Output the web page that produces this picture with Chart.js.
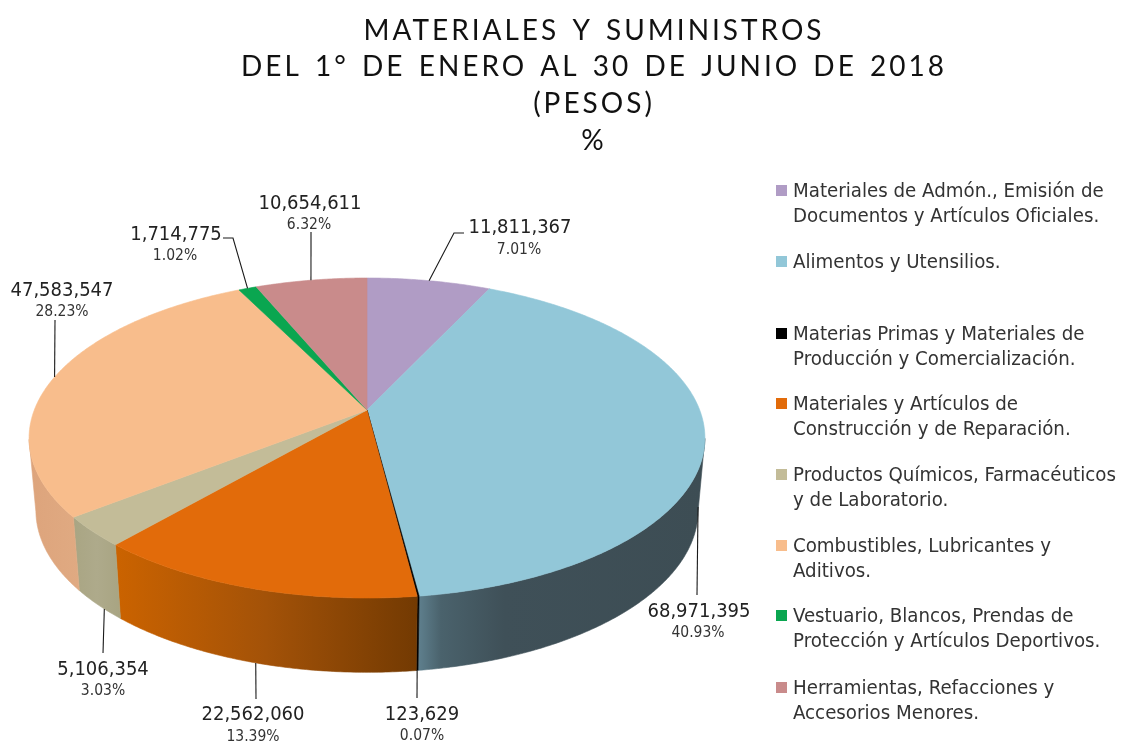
<!DOCTYPE html>
<html lang="es">
<head>
<meta charset="utf-8">
<title>Materiales y Suministros</title>
<script src="https://cdn.jsdelivr.net/npm/chart.js@4/dist/chart.umd.min.js"></script>
<style>
  html, body { margin: 0; padding: 0; background: #fff; }
  canvas { display: block; }
</style>
</head>
<body>
<canvas id="materialesChart" width="1122" height="743"></canvas>
<script>
// Datos
const titleLines = ["MATERIALES Y SUMINISTROS", "DEL 1° DE ENERO AL 30 DE JUNIO DE 2018", "(PESOS)", "%"]
const categories = [
  ["Materiales de Admón., Emisión de", "Documentos y Artículos Oficiales."],
  ["Alimentos y Utensilios."],
  ["Materias Primas y Materiales de", "Producción y Comercialización."],
  ["Materiales y Artículos de", "Construcción y de Reparación."],
  ["Productos Químicos, Farmacéuticos", "y de Laboratorio."],
  ["Combustibles, Lubricantes y", "Aditivos."],
  ["Vestuario, Blancos, Prendas de", "Protección y Artículos Deportivos."],
  ["Herramientas, Refacciones y", "Accesorios Menores."],
]
const values = [11811367, 68971395, 123629, 22562060, 5106354, 47583547, 1714775, 10654611]
const percentLabels = ["7.01%", "40.93%", "0.07%", "13.39%", "3.03%", "28.23%", "1.02%", "6.32%"]

// Colores
const sliceColors = ["#b09cc5", "#92c7d8", "#000000", "#e26b0a", "#c3bc98", "#f8bd8c", "#0aa650", "#c98b8b"]
const wallStops = [
  [[0, "#8a7a9c"], [1, "#8a7a9c"]],
  [[0, "#5f808e"], [0.08, "#4a626c"], [0.3, "#3f5058"], [1, "#3d4d54"]],
  [[0, "#000000"], [1, "#000000"]],
  [[0, "#cb6300"], [0.5, "#a35208"], [1, "#733a02"]],
  [[0, "#a9a583"], [0.5, "#aeaa8b"], [1, "#a8a482"]],
  [[0, "#dda47c"], [1, "#e0aa82"]],
  [[0, "#088a42"], [1, "#088a42"]],
  [[0, "#a87474"], [1, "#a87474"]],
]

// Vista en perspectiva del disco (cara superior e inferior)
const topDisk = { cx: 367, cy: 410, a: 332.7, b: 155.1, k: -0.175 }
const lowDisk = { cx: 367, cy: 482, a: 326, b: 157, k: -0.175 }

// Etiquetas: centro del texto, base del valor y del porcentaje, y tramo de la guia
const labelLayout = [
  { x: 520, y: 233, py: 254, px: 519, rim: topDisk, via: [[454, 233], [464, 233]] },
  { x: 699, y: 617, py: 637, px: 698, rim: lowDisk, via: [[697, 595]] },
  { x: 422, y: 720, py: 740, px: 422, rim: lowDisk, via: [[417, 698]] },
  { x: 253, y: 720, py: 741, px: 253, rim: lowDisk, clock: 196.5, via: [[256, 699]] },
  { x: 103, y: 675, py: 695, px: 103, rim: lowDisk, clock: 224.9, via: [[103, 653]] },
  { x: 62, y: 296, py: 316, px: 62, rim: topDisk, via: [[55, 320]] },
  { x: 176, y: 240, py: 260, px: 175, rim: topDisk, via: [[233, 238], [223, 238]] },
  { x: 310, y: 209, py: 229, px: 309, rim: topDisk, via: [[311, 232]] },
]

// Leyenda: base de cada primera linea
const legendBaselines = [197, 268, 340, 410, 481, 552, 622, 694]
const legendLineGap = 25
const legendSwatchX = 776
const legendTextX = 793

const fontOf = (size) => `condensed ${size}px 'DejaVu Sans'`
const STEP = Math.PI / 360

function project(disk, angle) {
  const u = Math.cos(angle)
  const v = Math.sin(angle)
  const d = 1 + disk.k * v
  return [disk.cx + (disk.a * u) / d, disk.cy + (disk.b * v) / d]
}

function sampleAngles(start, end) {
  const list = []
  for (let t = start; t < end; t += STEP) list.push(t)
  list.push(end)
  return list
}

// Pared lateral de cada porcion, tomada de los angulos que calcula Chart.js
function drawWalls(ctx, arcs) {
  arcs.forEach((arc, i) => {
    const angles = sampleAngles(arc.startAngle, arc.endAngle).filter((t) => Math.sin(t) >= -topDisk.k)
    if (angles.length < 2) return
    const upper = angles.map((t) => project(topDisk, t))
    const lower = angles.map((t) => project(lowDisk, t)).reverse()
    const xs = upper.concat(lower).map((p) => p[0])
    const grad = ctx.createLinearGradient(Math.min(...xs), 0, Math.max(...xs), 0)
    wallStops[i].forEach(([pos, color]) => grad.addColorStop(pos, color))
    ctx.beginPath()
    upper.concat(lower).forEach(([x, y], n) => (n ? ctx.lineTo(x, y) : ctx.moveTo(x, y)))
    ctx.closePath()
    ctx.fillStyle = grad
    ctx.strokeStyle = grad
    ctx.lineWidth = 0.6
    ctx.fill()
    ctx.stroke()
  })
}

function drawTop(ctx, arcs) {
  arcs.forEach((arc, i) => {
    ctx.beginPath()
    ctx.moveTo(topDisk.cx, topDisk.cy)
    sampleAngles(arc.startAngle, arc.endAngle).forEach((t) => {
      const [x, y] = project(topDisk, t)
      ctx.lineTo(x, y)
    })
    ctx.closePath()
    ctx.fillStyle = sliceColors[i]
    ctx.strokeStyle = sliceColors[i]
    ctx.lineWidth = 0.6
    ctx.fill()
    ctx.stroke()
  })
}

function drawLabels(ctx, arcs) {
  ctx.textAlign = "center"
  ctx.textBaseline = "alphabetic"
  arcs.forEach((arc, i) => {
    const l = labelLayout[i]
    const mid = l.clock !== undefined ? (l.clock * Math.PI) / 180 - Math.PI / 2 : (arc.startAngle + arc.endAngle) / 2
    const start = project(l.rim, mid)
    ctx.beginPath()
    ctx.moveTo(start[0], start[1])
    l.via.forEach(([x, y]) => ctx.lineTo(x, y))
    ctx.strokeStyle = "#1a1a1a"
    ctx.lineWidth = 1.1
    ctx.stroke()

    ctx.fillStyle = "#222222"
    ctx.font = fontOf(20)
    ctx.fillText(values[i].toLocaleString("en-US"), l.x, l.y)
    ctx.fillStyle = "#333333"
    ctx.font = fontOf(15.5)
    ctx.fillText(percentLabels[i], l.px, l.py)
  })
}

function drawLegend(ctx) {
  ctx.textAlign = "left"
  ctx.textBaseline = "alphabetic"
  ctx.font = fontOf(20.25)
  categories.forEach((lines, i) => {
    const base = legendBaselines[i]
    ctx.fillStyle = sliceColors[i]
    ctx.fillRect(legendSwatchX, base - 12, 11, 11)
    ctx.fillStyle = "#333333"
    lines.forEach((line, n) => ctx.fillText(line, legendTextX, base + n * legendLineGap))
  })
}

const pie3dPlugin = {
  id: "pie3d",
  beforeDraw(chart) {
    // el titulo va espaciado
    chart.ctx.letterSpacing = "3px"
    chart.ctx.wordSpacing = "3px"
  },
  beforeDatasetsDraw(chart) {
    const ctx = chart.ctx
    const arcs = chart.getDatasetMeta(0).data
    ctx.letterSpacing = "0px"
    ctx.wordSpacing = "0px"
    ctx.save()
    drawWalls(ctx, arcs)
    drawTop(ctx, arcs)
    drawLabels(ctx, arcs)
    drawLegend(ctx)
    ctx.restore()
    return false
  },
}

new Chart(document.getElementById("materialesChart"), {
  type: "pie",
  data: {
    labels: categories.map((c) => c.join(" ")),
    datasets: [{ data: values, backgroundColor: sliceColors, borderWidth: 0 }],
  },
  options: {
    responsive: false,
    animation: false,
    devicePixelRatio: 1,
    layout: { padding: { left: 66 } },
    plugins: {
      legend: { display: false },
      tooltip: { enabled: false },
      title: {
        display: true,
        text: titleLines,
        color: "#111111",
        font: { family: "Lato", size: 28, weight: "normal", lineHeight: 1.32 },
        padding: { top: 12, bottom: 0 },
      },
    },
  },
  plugins: [pie3dPlugin],
})
</script>
</body>
</html>
